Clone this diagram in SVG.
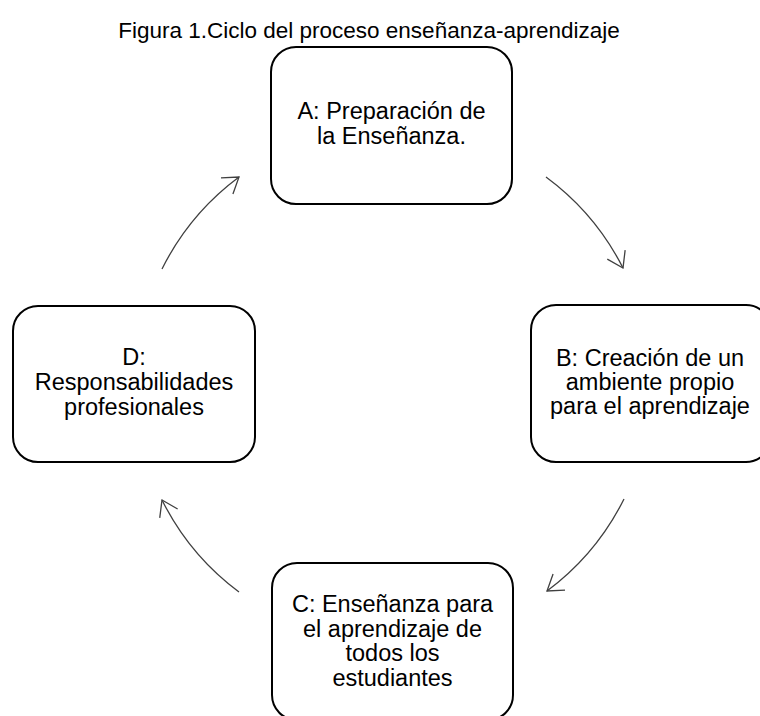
<svg xmlns="http://www.w3.org/2000/svg" width="760" height="716" viewBox="0 0 760 716">
<defs>
<style>
.box{fill:#fff;stroke:#000;stroke-width:2}
.t{font-family:"Liberation Sans",Arial,sans-serif;font-size:23.5px;fill:#000;text-anchor:middle}
.title{font-size:22.5px}
.arc{fill:none;stroke:#404040;stroke-width:1.3}
</style>
<marker id="ah" viewBox="-20 -12 22 24" markerWidth="22" markerHeight="24" refX="0" refY="0" orient="auto" markerUnits="userSpaceOnUse">
<path d="M-15,-10 L0,0 L-15,10" fill="none" stroke="#404040" stroke-width="1.3"/>
</marker>
</defs>
<rect width="760" height="716" fill="#fff"/>
<text class="t title" x="369" y="38">Figura 1.Ciclo del proceso enseñanza-aprendizaje</text>
<g id="connectors">
<path class="arc" d="M546,177 A258,258 0 0 1 623,268" marker-end="url(#ah)"/>
<path class="arc" d="M624,499 A258,258 0 0 1 547,591" marker-end="url(#ah)"/>
<path class="arc" d="M239,592 A258,258 0 0 1 162,500" marker-end="url(#ah)"/>
<path class="arc" d="M162,269 A258,258 0 0 1 239,177" marker-end="url(#ah)"/>
</g>
<g id="nodeA">
<rect class="box" x="271" y="47" width="241" height="157" rx="25"/>
<text class="t" x="391.5" y="119">A: Preparación de</text>
<text class="t" x="391.5" y="144">la Enseñanza.</text>
</g>
<g id="nodeB">
<rect class="box" x="531" y="305" width="240" height="157" rx="25"/>
<text class="t" x="650" y="366">B: Creación de un</text>
<text class="t" x="650" y="390">ambiente propio</text>
<text class="t" x="650" y="414">para el aprendizaje</text>
</g>
<g id="nodeC">
<rect class="box" x="272" y="563" width="241" height="157" rx="25"/>
<text class="t" x="392.5" y="612">C: Enseñanza para</text>
<text class="t" x="392.5" y="637">el aprendizaje de</text>
<text class="t" x="392.5" y="661">todos los</text>
<text class="t" x="392.5" y="686">estudiantes</text>
</g>
<g id="nodeD">
<rect class="box" x="13" y="306" width="242" height="156" rx="25"/>
<text class="t" x="134" y="365">D:</text>
<text class="t" x="134" y="390">Responsabilidades</text>
<text class="t" x="134" y="415">profesionales</text>
</g>
</svg>
